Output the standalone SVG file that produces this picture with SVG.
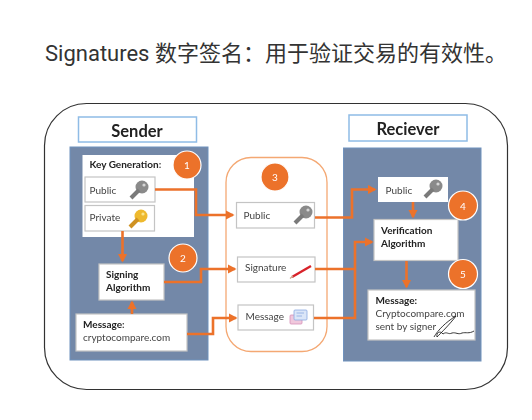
<svg xmlns="http://www.w3.org/2000/svg" width="532" height="420" viewBox="0 0 532 420">
<style>
.ttl{font-family:Roboto,"Noto Sans CJK SC",sans-serif;font-size:22px;fill:#333}
.t{font-family:Lato,"Liberation Sans",sans-serif;font-size:10px;fill:#444}
.b{font-family:Lato,"Liberation Sans",sans-serif;font-size:10px;font-weight:700;fill:#222}
.h{font-family:Lato,"Liberation Sans",sans-serif;font-size:16.5px;font-weight:700;fill:#222;text-anchor:middle}
.n{font-family:Lato,"Liberation Sans",sans-serif;font-size:10px;fill:#fff;text-anchor:middle}
.panel{fill:#7388a8;stroke:#6f92bd;stroke-width:1}
.hd{fill:#fff;stroke:#8fbce6;stroke-width:1.5}
.w{fill:#fff}
.g{fill:#fff;stroke:#c4c4c4;stroke-width:1.2}
.c{fill:#ec722c;stroke:#fff;stroke-width:1.2}
.ln{fill:none;stroke:#ec722c;stroke-width:2.6}
</style>
<defs>
<marker id="a" markerWidth="3.4" markerHeight="3.6" refX="2.8" refY="1.8" orient="auto"><path d="M0,0L3.4,1.8L0,3.600Z" fill="#ec722c"/></marker>
<filter id="s" x="-2%" y="-2%" width="104%" height="104%"><feGaussianBlur stdDeviation="0.4"/></filter>
<g id="kg">
<circle cx="6" cy="-6" r="6.500" fill="#8a8a8a"/><circle cx="8" cy="-8" r="1.6" fill="#d5d5d5"/>
<path d="M3,-3L-5,5" stroke="#7a7a7a" stroke-width="4" fill="none"/>
</g>
<g id="ky">
<circle cx="6" cy="-6" r="6.500" fill="#eeb92f"/><circle cx="8" cy="-8" r="1.6" fill="#fbe68c"/>
<path d="M3,-3L-5,5" stroke="#cf9220" stroke-width="4" fill="none"/>
</g>
</defs>
<rect width="532" height="420" fill="#fff"/>
<text class="ttl" x="45" y="61">Signatures 数字签名：用于验证交易的有效性。</text>
<g filter="url(#s)">
<rect id="frame" x="44.5" y="103.5" width="463" height="286" rx="42" fill="#fff" stroke="#333" stroke-width="1.2"/>
<g id="sender">
<rect class="panel" x="70" y="147" width="138" height="213"/>
<rect class="hd" x="78.500" y="117" width="118" height="25"/>
<text class="h" x="137" y="137">Sender</text>
</g>
<g id="receiver">
<rect class="panel" x="343.500" y="148" width="137.500" height="213"/>
<rect class="hd" x="349" y="115" width="118" height="26"/>
<text class="h" x="408" y="135">Reciever</text>
</g>
<g id="middle">
<rect x="226" y="157.500" width="101" height="194" rx="25" fill="#fff" stroke="#f4a873" stroke-width="1.3"/>
</g>
<g id="keygen">
<rect class="w" x="82.500" y="155" width="111.500" height="82"/>
<text class="b" x="89.500" y="168">Key Generation<tspan class="t">:</tspan></text>
</g>
<g id="sender-public">
<rect class="g" x="85" y="177" width="70" height="25"/>
<text class="t" x="89.500" y="194">Public</text>
<use href="#kg" x="136" y="193"/>
</g>
<g id="sender-private">
<rect class="g" x="85" y="205.500" width="69.500" height="25.500"/>
<text class="t" x="89.500" y="221">Private</text>
<use href="#ky" x="135" y="222"/>
</g>
<g id="signing">
<rect class="g" x="99" y="264" width="65" height="36"/>
<text class="b" x="106" y="278">Signing</text>
<text class="b" x="106" y="291">Algorithm</text>
</g>
<g id="sender-message">
<rect class="g" x="76" y="314" width="111" height="37"/>
<text class="b" x="83" y="328">Message<tspan class="t">:</tspan></text>
<text class="t" x="83" y="341">cryptocompare.com</text>
</g>
<g id="mid-public">
<rect class="g" x="236.500" y="202.500" width="78" height="25.500"/>
<text class="t" x="243.500" y="219">Public</text>
<use href="#kg" x="300" y="218"/>
</g>
<g id="mid-signature">
<rect class="g" x="237.500" y="257" width="77.500" height="25"/>
<text class="t" x="245" y="271">Signature</text>
<path d="M292,277L311,266" stroke="#d8232a" stroke-width="2.4" fill="none"/>
<path d="M290,278.500L293,276" stroke="#c9a98a" stroke-width="1.2"/>
</g>
<g id="mid-message">
<rect class="g" x="238" y="305" width="75.500" height="25"/>
<text class="t" x="245.500" y="320">Message</text>
<rect x="290" y="315" width="12" height="9" rx="1" fill="#f0c8dc" stroke="#d58fb8" stroke-width="0.8"/>
<rect x="294" y="310" width="13" height="10" rx="1" fill="#dbe6f8" stroke="#8aa8e0" stroke-width="0.8"/>
<path d="M296.500,313H304M296.500,316H302" stroke="#8aa8e0" stroke-width="0.8"/>
</g>
<g id="recv-public">
<rect class="w" x="378" y="177" width="70" height="25"/>
<text class="t" x="385.500" y="193.500">Public</text>
<use href="#kg" x="430" y="192"/>
</g>
<g id="verification">
<rect class="g" x="374" y="219.500" width="84" height="41"/>
<text class="b" x="381" y="234">Verification</text>
<text class="b" x="381" y="247">Algorithm</text>
</g>
<g id="recv-message">
<rect class="g" x="368" y="290" width="107" height="50"/>
<text class="b" x="375.500" y="303.500">Message:</text>
<text class="t" x="375.500" y="316.500">Cryptocompare.com</text>
<text class="t" x="375.500" y="329.500">sent by signer</text>
<path d="M434,337C438,330 446,322 456,316C450,324 441,333 437,337C436,333 440,330 443,334C447,331 448,335 452,333C456,332 458,335 462,333C466,332 469,334 474,331" fill="none" stroke="#222" stroke-width="0.9"/>
</g>
<g id="connectors">
<path class="ln" d="M155,189.500H196V215H233" marker-end="url(#a)"/>
<path class="ln" d="M122.500,231V261" marker-end="url(#a)"/>
<path class="ln" d="M164,282H201V269H235" marker-end="url(#a)"/>
<path class="ln" d="M132,314V302" marker-end="url(#a)"/>
<path class="ln" d="M187,334H213V318H236" marker-end="url(#a)"/>
<path class="ln" d="M315,217.500H352V189.500H375" marker-end="url(#a)"/>
<path class="ln" d="M315,269H355"/>
<path class="ln" d="M314,318H355V242H372" marker-end="url(#a)"/>
<path class="ln" d="M413,202V217" marker-end="url(#a)"/>
<path class="ln" d="M406.500,261V287" marker-end="url(#a)"/>
</g>
<g id="badge-1"><circle class="c" cx="187" cy="165" r="14"/><text class="n" x="187" y="169">1</text></g>
<g id="badge-2"><circle class="c" cx="183" cy="258" r="14"/><text class="n" x="183" y="262">2</text></g>
<g id="badge-3"><circle class="c" cx="275" cy="177" r="14"/><text class="n" x="275" y="181">3</text></g>
<g id="badge-4"><circle class="c" cx="463" cy="205.500" r="14.500"/><text class="n" x="463" y="209.500">4</text></g>
<g id="badge-5"><circle class="c" cx="463" cy="274" r="14.500"/><text class="n" x="463" y="278">5</text></g>
</g>
</svg>
